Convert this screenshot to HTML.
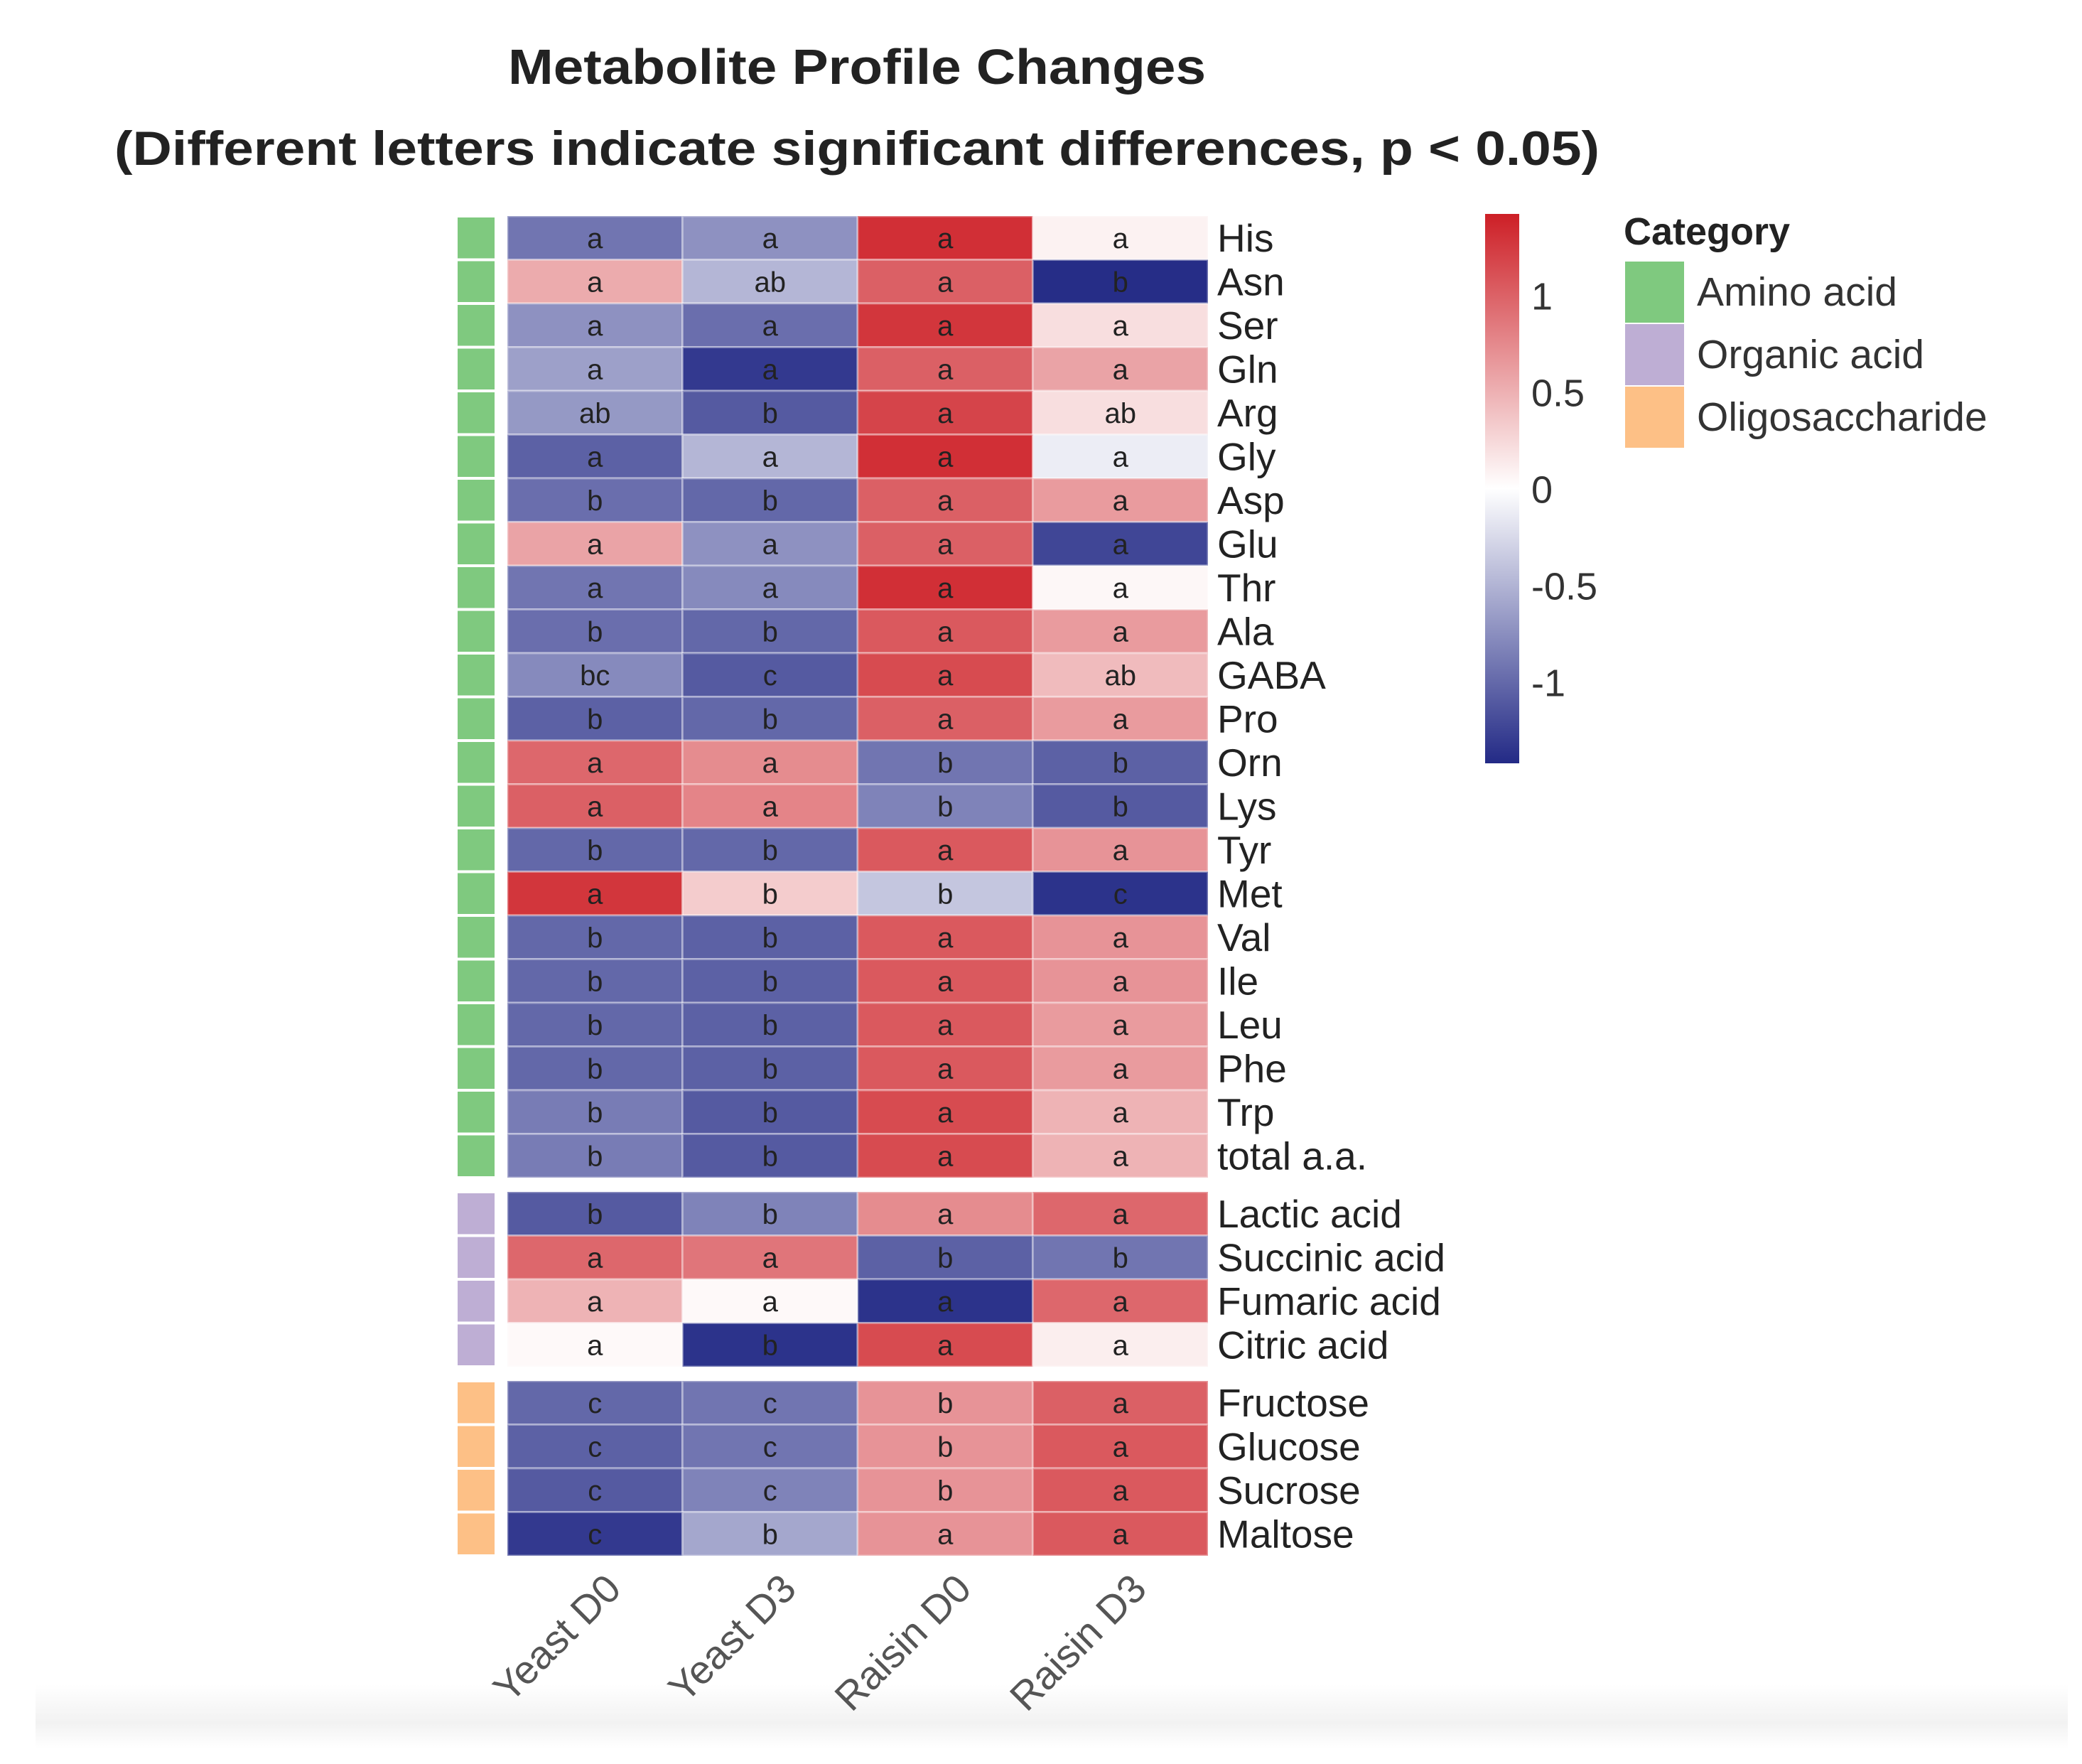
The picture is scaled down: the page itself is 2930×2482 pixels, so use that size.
<!DOCTYPE html>
<html><head><meta charset="utf-8"><style>
html,body{margin:0;padding:0;background:#fff;}
svg{display:block;font-family:"Liberation Sans",sans-serif;}
</style></head><body>
<svg id="chart" width="2930" height="2482" viewBox="0 0 2930 2482" xmlns="http://www.w3.org/2000/svg">
<defs>
<linearGradient id="cbar" x1="0" y1="0" x2="0" y2="1">
<stop offset="0" stop-color="#cd1f26"/>
<stop offset="0.5" stop-color="#ffffff"/>
<stop offset="1" stop-color="#232a86"/>
</linearGradient>
<linearGradient id="foot" x1="0" y1="0" x2="0" y2="1">
<stop offset="0" stop-color="#ffffff"/>
<stop offset="0.6" stop-color="#f2f2f2"/>
<stop offset="1" stop-color="#ffffff"/>
</linearGradient>
</defs>
<rect x="50" y="2370" width="2860" height="90" fill="url(#foot)"/>
<text x="1206" y="118" text-anchor="middle" font-size="70" font-weight="bold" fill="#222" textLength="982" lengthAdjust="spacingAndGlyphs">Metabolite Profile Changes</text>
<text x="1206" y="232" text-anchor="middle" font-size="68" font-weight="bold" fill="#222" textLength="2090" lengthAdjust="spacingAndGlyphs">(Different letters indicate significant differences, p &lt; 0.05)</text>
<g id="cells"></g>
<g id="legend"></g>
</svg>
<script>
const columns = ["Yeast D0","Yeast D3","Raisin D0","Raisin D3"];
const rowNames = ["His","Asn","Ser","Gln","Arg","Gly","Asp","Glu","Thr","Ala","GABA","Pro","Orn","Lys","Tyr","Met","Val","Ile","Leu","Phe","Trp","total a.a.","Lactic acid","Succinic acid","Fumaric acid","Citric acid","Fructose","Glucose","Sucrose","Maltose"];
const rowGroups = [0,0,0,0,0,0,0,0,0,0,0,0,0,0,0,0,0,0,0,0,0,0,1,1,1,1,2,2,2,2];
const categoryNames = ["Amino acid","Organic acid","Oligosaccharide"];
const categoryColors = ["#7fc97f","#beaed4","#fdc086"];
const values = [
[-0.85,-0.65,1.3,0.05],[0.45,-0.4,0.95,-1.4],[-0.65,-0.9,1.25,0.15],[-0.55,-1.3,0.95,0.5],
[-0.6,-1.05,1.15,0.15],[-1.0,-0.4,1.3,-0.08],[-0.9,-0.95,0.95,0.55],[0.5,-0.65,0.95,-1.2],
[-0.85,-0.7,1.3,0.03],[-0.9,-0.95,1.0,0.55],[-0.7,-1.05,1.1,0.35],[-1.0,-0.95,0.95,0.55],
[0.9,0.65,-0.85,-1.0],[0.95,0.7,-0.75,-1.05],[-0.95,-0.95,1.0,0.6],[1.25,0.25,-0.3,-1.35],
[-0.95,-1.0,1.0,0.6],[-0.95,-1.0,1.0,0.6],[-0.95,-1.0,1.0,0.55],[-0.95,-1.0,1.0,0.55],
[-0.8,-1.05,1.1,0.4],[-0.8,-1.05,1.1,0.4],
[-1.05,-0.75,0.65,0.9],[0.9,0.8,-1.0,-0.85],[0.4,0.02,-1.35,0.9],[0.02,-1.35,1.1,0.07],
[-0.95,-0.85,0.6,0.95],[-1.0,-0.85,0.6,1.0],[-1.05,-0.75,0.6,1.0],[-1.3,-0.5,0.6,1.0]
];
const letters = [
["a","a","a","a"],["a","ab","a","b"],["a","a","a","a"],["a","a","a","a"],["ab","b","a","ab"],
["a","a","a","a"],["b","b","a","a"],["a","a","a","a"],["a","a","a","a"],["b","b","a","a"],
["bc","c","a","ab"],["b","b","a","a"],["a","a","b","b"],["a","a","b","b"],["b","b","a","a"],
["a","b","b","c"],["b","b","a","a"],["b","b","a","a"],["b","b","a","a"],["b","b","a","a"],
["b","b","a","a"],["b","b","a","a"],["b","b","a","a"],["a","a","b","b"],["a","a","a","a"],
["a","b","a","a"],["c","c","b","a"],["c","c","b","a"],["c","c","b","a"],["c","b","a","a"]
];
const colorTicks = [1,0.5,0,-0.5,-1];
const colorLimit = 1.42;

const NS="http://www.w3.org/2000/svg";
const X0=714, CW=246.5, Y0=304, RH=61.5, GAP=20;
function xPos(c){return X0+c*CW;}
function yPos(r){return Y0+r*RH+rowGroups[r]*GAP;}
function lerp(a,b,t){return Math.round(a+(b-a)*t);}
function colorOf(v){
  let t=Math.max(-1,Math.min(1,v/colorLimit));
  const s=Math.pow(Math.abs(t),0.85);
  if(t>=0) return `rgb(${lerp(255,205,s)},${lerp(255,31,s)},${lerp(255,38,s)})`;
  return `rgb(${lerp(255,35,s)},${lerp(255,42,s)},${lerp(255,134,s)})`;
}
function mk(tag,attrs,parent){const e=document.createElementNS(NS,tag);for(const k in attrs)e.setAttribute(k,attrs[k]);parent.appendChild(e);return e;}
const g=document.getElementById('cells');
rowNames.forEach((name,r)=>{
  const y=yPos(r);
  const a=mk('rect',{x:644,y:y+2,width:52,height:RH-4,fill:categoryColors[rowGroups[r]]},g);
  
  
  columns.forEach((col,c)=>{
    const rc=mk('rect',{x:xPos(c),y:y,width:CW,height:RH,fill:colorOf(values[r][c]),stroke:'rgba(255,255,255,0.35)','stroke-width':3},g);
    
    
    const t=mk('text',{x:xPos(c)+CW/2,y:y+RH/2+14,'text-anchor':'middle','font-size':40,fill:'#222'},g);
    t.textContent=letters[r][c];
    
    
  });
  const lab=mk('text',{x:1713,y:y+RH/2+19,'font-size':55,fill:'#222'},g);
  lab.textContent=name;
  
  
});
const bottom=yPos(rowNames.length-1)+RH;
columns.forEach((col,c)=>{
  const cx=xPos(c)+CW/2+12, cy=bottom+22;
  const t=mk('text',{x:cx,y:cy,'text-anchor':'end','font-size':56,fill:'#555',transform:`rotate(-45 ${cx} ${cy})`,dy:'0.7em'},g);
  t.textContent=col;
  
  
});
const L=document.getElementById('legend');
const CB_X=2090, CB_W=48, CB_TOP=301, CB_BOT=1074;
const cb=mk('rect',{x:CB_X,y:CB_TOP,width:CB_W,height:CB_BOT-CB_TOP,fill:'url(#cbar)'},L);


function cbY(v){return CB_TOP+(colorLimit-v)/(2*colorLimit)*(CB_BOT-CB_TOP);}
colorTicks.forEach(v=>{
  const t=mk('text',{x:2155,y:cbY(v)+20,'font-size':54,fill:'#333'},L);
  t.textContent=String(v);
  
  
});
const ct=mk('text',{x:2285,y:344,'font-size':54,'font-weight':'bold',fill:'#222'},L);
ct.textContent='Category';


categoryNames.forEach((n,i)=>{
  const y=368+i*88;
  const s=mk('rect',{x:2287,y:y,width:83,height:86,fill:categoryColors[i]},L);
  
  
  const t=mk('text',{x:2388,y:y+62,'font-size':57,fill:'#333'},L);
  t.textContent=n;
  
  
});
</script>
</body></html>
